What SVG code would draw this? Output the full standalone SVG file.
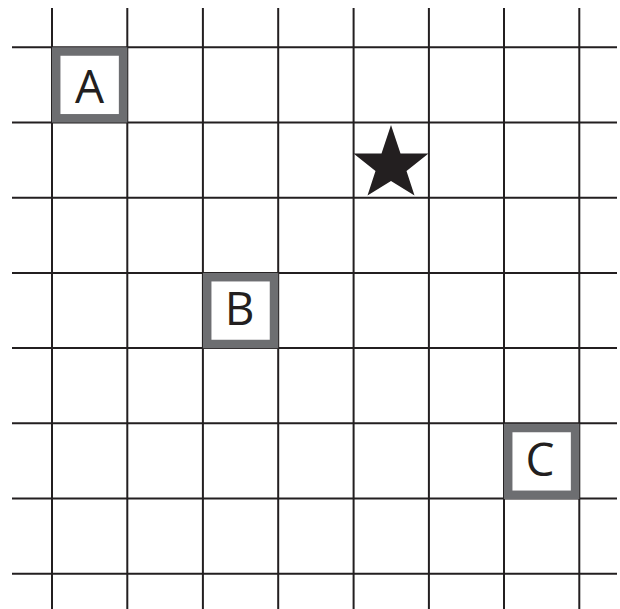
<svg xmlns="http://www.w3.org/2000/svg" width="620" height="609" viewBox="0 0 620 609">
<style>
.g line{stroke:#231f20;stroke-width:2}
.box{fill:#fff;stroke:#6d6e71;stroke-width:8.5}
.lbl{font-family:"Open Sans","Liberation Sans",sans-serif;font-size:46px;fill:#231f20;text-anchor:middle}
</style>
<rect width="620" height="609" fill="#fff"/>
<g id="grid" class="g">
<line x1="52" y1="8" x2="52" y2="609"/>
<line x1="127.3" y1="8" x2="127.3" y2="609"/>
<line x1="202.9" y1="8" x2="202.9" y2="609"/>
<line x1="278.2" y1="8" x2="278.2" y2="609"/>
<line x1="353.6" y1="8" x2="353.6" y2="609"/>
<line x1="428.9" y1="8" x2="428.9" y2="609"/>
<line x1="504" y1="8" x2="504" y2="609"/>
<line x1="579.3" y1="8" x2="579.3" y2="609"/>
<line x1="12" y1="47.3" x2="617" y2="47.3"/>
<line x1="12" y1="122.5" x2="617" y2="122.5"/>
<line x1="12" y1="197.7" x2="617" y2="197.7"/>
<line x1="12" y1="272.9" x2="617" y2="272.9"/>
<line x1="12" y1="348.1" x2="617" y2="348.1"/>
<line x1="12" y1="423.3" x2="617" y2="423.3"/>
<line x1="12" y1="498.5" x2="617" y2="498.5"/>
<line x1="12" y1="573.8" x2="617" y2="573.8"/>
</g>
<g id="A">
<rect class="box" x="56.2" y="51.5" width="66.9" height="66.8"/>
<text class="lbl" x="89.6" y="102.5">A</text>
</g>
<g id="B">
<rect class="box" x="207.2" y="277.2" width="66.8" height="66.8"/>
<text class="lbl" x="239.5" y="325">B</text>
</g>
<g id="C">
<rect class="box" x="508.2" y="428" width="66.9" height="66.8"/>
<text class="lbl" x="540" y="476">C</text>
</g>
<g id="star">
<polygon fill="#231f20" points="391,125 400.5,153.5 428.5,153.5 406.5,171 414.5,195.5 391,181 367.5,195.5 375.5,171 353.5,153.5 381.5,153.5"/>
</g>
</svg>
